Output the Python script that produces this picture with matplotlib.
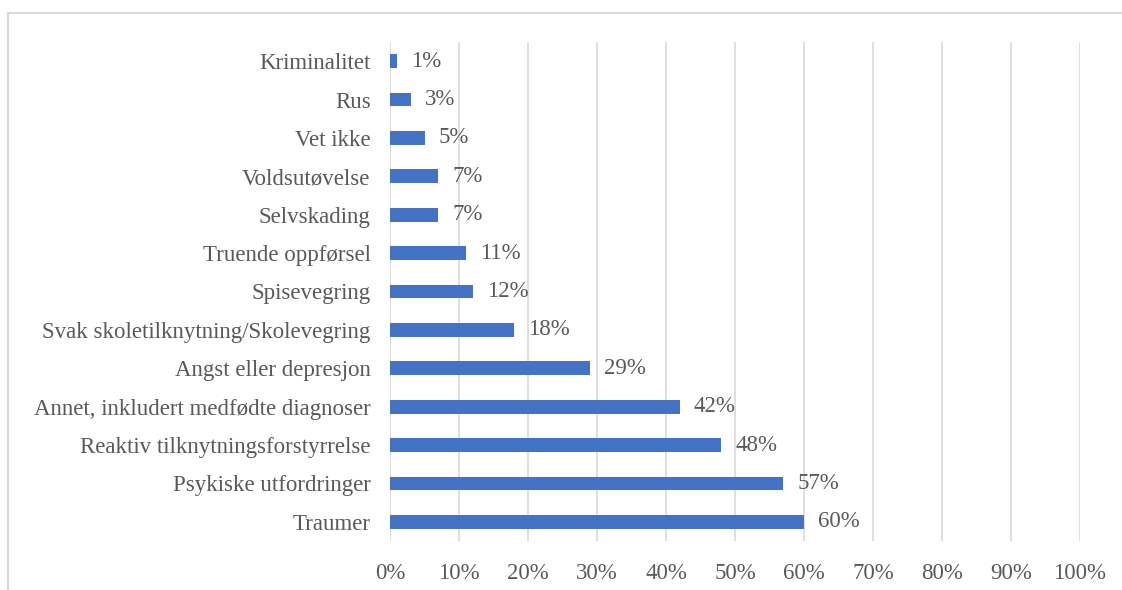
import matplotlib.pyplot as plt
from matplotlib.patches import Rectangle

kategorier = ["Traumer", "Psykiske utfordringer", "Reaktiv tilknytningsforstyrrelse",
              "Annet, inkludert medfødte diagnoser", "Angst eller depresjon",
              "Svak skoletilknytning/Skolevegring", "Spisevegring", "Truende oppførsel",
              "Selvskading", "Voldsutøvelse", "Vet ikke", "Rus", "Kriminalitet"]
verdier = [60, 57, 48, 42, 29, 18, 12, 11, 7, 7, 5, 3, 1]
xticks = list(range(0, 101, 10))

plt.rcParams['font.family'] = ['Liberation Serif', 'DejaVu Serif']
tekst = '#595959'
grid = '#d9d9d9'
fs = 16.5

fig = plt.figure(figsize=(11.22, 5.9), dpi=100)
ax = fig.add_axes([390/1122, 1 - 541/590, 690/1122, 499/590])

yy = range(len(kategorier))
ax.barh(yy, verdier, height=0.36, color='#4472c4', zorder=3)
for y, v in zip(yy, verdier):
    ax.text(v + 2.0, y, f"{v}%", va='center', ha='left', fontsize=fs, color=tekst)

ax.set_xlim(0, 100)
ax.set_ylim(-0.5, len(kategorier) - 0.5)
ax.set_xticks(xticks)
ax.set_xticklabels([f"{t}%" for t in xticks], fontsize=fs, color=tekst)
ax.set_yticks(list(yy))
ax.set_yticklabels(kategorier, fontsize=fs, color=tekst)
ax.tick_params(length=0, pad=16, axis='x')
ax.tick_params(length=0, pad=14, axis='y')
ax.xaxis.grid(True, color=grid, linewidth=1.2, zorder=0)
for s in ax.spines.values():
    s.set_visible(False)

fig.patches.append(Rectangle((8/1122, -0.1), 1.2, 1 - 13/590 + 0.1, transform=fig.transFigure,
                             fill=False, edgecolor=grid, linewidth=1.5))

fig.savefig('out.png', dpi=100)
